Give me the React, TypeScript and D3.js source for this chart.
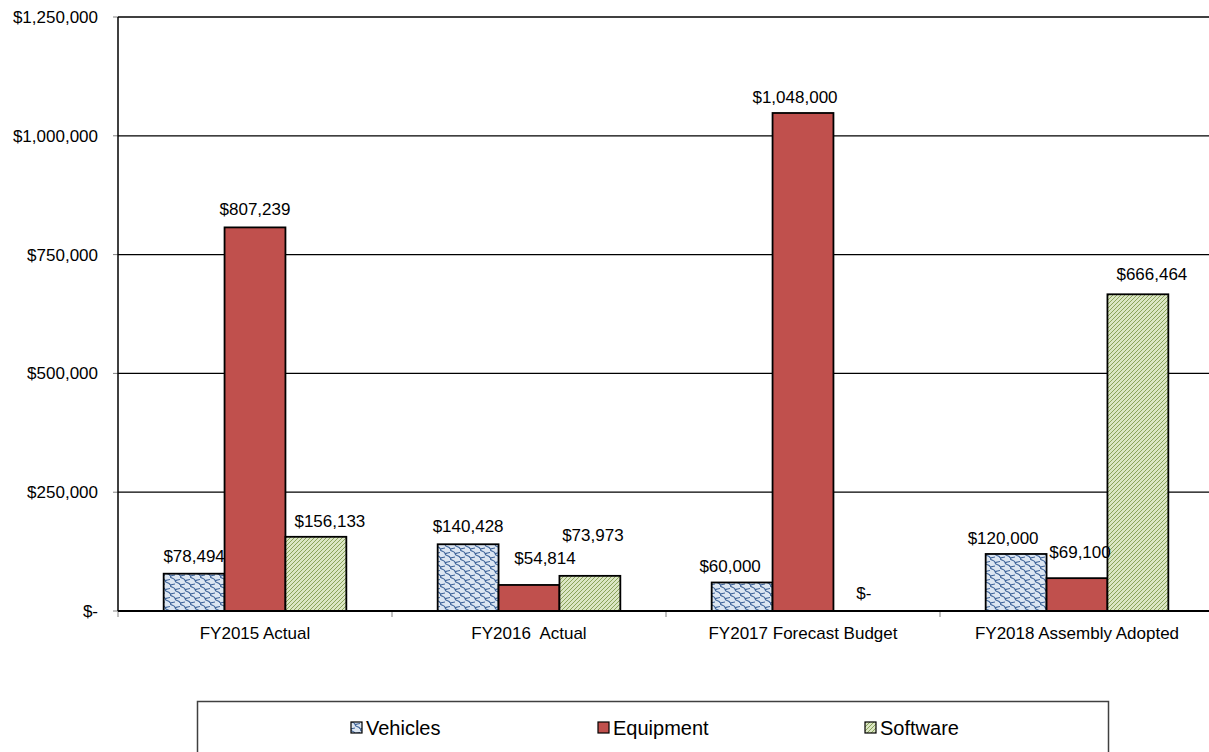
import React, { useEffect, useRef } from 'react';
import * as d3 from 'd3';

const categories = ['FY2015 Actual', 'FY2016  Actual', 'FY2017 Forecast Budget', 'FY2018 Assembly Adopted'];
const seriesNames = ['Vehicles', 'Equipment', 'Software'];
const vehicles = [78494, 140428, 60000, 120000];
const equipment = [807239, 54814, 1048000, 69100];
const software = [156133, 73973, 0, 666464];
const yTicks = [0, 250000, 500000, 750000, 1000000, 1250000];

// label nudges (dx, dy) where the original labels were moved by hand
const labelNudge: Record<string, [number, number]> = {
  'Software|0': [14, 2],
  'Equipment|1': [16, -9],
  'Software|1': [3, -23],
  'Vehicles|2': [-12, 2],
  'Equipment|2': [-8, 2],
  'Vehicles|3': [-13, 2],
  'Equipment|3': [3, -8],
  'Software|3': [14, -2],
};

// legend swatch left edges
const legendSlots = [351, 598, 865];

const W = 1209;
const H = 752;

export default function App() {
  const svgRef = useRef<SVGSVGElement>(null);

  useEffect(() => {
    document.body.style.margin = '0';
    if (!svgRef.current) return;
    const svg = d3.select(svgRef.current);
    svg.selectAll('*').remove();

    const font = 'Liberation Sans, Arial, sans-serif';
    const left = 118, top = 17, bottom = 611, right = 1214;

    // patterns
    const defs = svg.append('defs');
    const pv = defs.append('pattern').attr('id', 'pVeh')
      .attr('patternUnits', 'userSpaceOnUse').attr('width', 10).attr('height', 9);
    pv.append('rect').attr('width', 10).attr('height', 9).attr('fill', '#dce6f2');
    pv.append('path')
      .attr('d', 'M0,0 C0,3 5,1.5 5,4.5 C5,7.5 10,6 10,9 M-5,4.5 C-5,7.5 0,6 0,9 M5,-4.5 C5,-1.5 10,-3 10,0 M0,0 C2,0 3,-1 5,-1 M5,4.5 C7,4.5 8,3.5 10,3.5 M0,9 C2,9 3,8 5,8 M-5,4.5 C-3,4.5 -2,3.5 0,3.5')
      .attr('fill', 'none').attr('stroke', '#3d6399').attr('stroke-width', 1.1);

    const ps = defs.append('pattern').attr('id', 'pSoft')
      .attr('patternUnits', 'userSpaceOnUse').attr('width', 4).attr('height', 4);
    ps.append('rect').attr('width', 4).attr('height', 4).attr('fill', '#dbe6c4');
    ps.append('path')
      .attr('d', 'M-1,1 L1,-1 M0,4 L4,0 M3,5 L5,3')
      .attr('stroke', '#8aa35a').attr('stroke-width', 1);

    const fills: Record<string, string> = {
      Vehicles: 'url(#pVeh)',
      Equipment: '#c0504d',
      Software: 'url(#pSoft)',
    };
    const values: Record<string, number[]> = {
      Vehicles: vehicles,
      Equipment: equipment,
      Software: software,
    };

    const x0 = d3.scaleBand().domain(categories).range([left, right]).paddingInner(0).paddingOuter(0);
    const x1 = d3.scaleBand().domain(seriesNames).range([0, x0.bandwidth()]).paddingInner(0).paddingOuter(0.75);
    const y = d3.scaleLinear().domain([0, 1250000]).range([bottom, top]);

    const fmt = (v: number) => (v === 0 ? '$-' : '$' + d3.format(',')(v));

    // gridlines
    svg.append('g').selectAll('line').data(yTicks.filter(t => t > 0)).enter().append('line')
      .attr('x1', left).attr('x2', right)
      .attr('y1', d => y(d)).attr('y2', d => y(d))
      .attr('stroke', '#000').attr('stroke-width', 1.3);

    // left ticks
    svg.append('g').selectAll('line').data(yTicks).enter().append('line')
      .attr('x1', left - 5).attr('x2', left)
      .attr('y1', d => y(d)).attr('y2', d => y(d))
      .attr('stroke', '#808080');

    svg.append('g').selectAll('text').data(yTicks).enter().append('text')
      .attr('x', 98).attr('y', d => y(d) + 6)
      .attr('text-anchor', 'end')
      .attr('font-family', font).attr('font-size', 17)
      .text(d => fmt(d));

    // bottom ticks at category boundaries
    const bounds = categories.map(c => x0(c) as number).concat([right]);
    svg.append('g').selectAll('line').data(bounds).enter().append('line')
      .attr('x1', d => d).attr('x2', d => d)
      .attr('y1', bottom).attr('y2', bottom + 6)
      .attr('stroke', '#808080');

    // bars
    seriesNames.forEach(s => {
      svg.append('g').selectAll('rect').data(values[s]).enter().append('rect')
        .attr('x', (d, i) => (x0(categories[i]) as number) + (x1(s) as number))
        .attr('y', d => y(d))
        .attr('width', x1.bandwidth())
        .attr('height', d => bottom - y(d))
        .attr('fill', fills[s])
        .attr('stroke', '#000').attr('stroke-width', 1.8);
    });

    // axes lines
    svg.append('line').attr('x1', left).attr('x2', left).attr('y1', top).attr('y2', bottom)
      .attr('stroke', '#000').attr('stroke-width', 1.5);
    svg.append('line').attr('x1', left).attr('x2', right).attr('y1', bottom).attr('y2', bottom)
      .attr('stroke', '#000').attr('stroke-width', 2);

    // data labels
    seriesNames.forEach(s => {
      svg.append('g').selectAll('text').data(values[s]).enter().append('text')
        .attr('x', (d, i) => {
          const n = labelNudge[`${s}|${i}`] || [0, 0];
          return (x0(categories[i]) as number) + (x1(s) as number) + x1.bandwidth() / 2 + n[0];
        })
        .attr('y', (d, i) => {
          const n = labelNudge[`${s}|${i}`] || [0, 0];
          return y(d) - 12 + n[1];
        })
        .attr('text-anchor', 'middle')
        .attr('font-family', font).attr('font-size', 17)
        .text(d => fmt(d));
    });

    // category labels
    svg.append('g').selectAll('text').data(categories).enter().append('text')
      .attr('x', d => (x0(d) as number) + x0.bandwidth() / 2)
      .attr('y', 639)
      .attr('text-anchor', 'middle')
      .attr('font-family', font).attr('font-size', 17)
      .style('white-space', 'pre')
      .text(d => d);

    // legend
    const lg = svg.append('g');
    lg.append('rect').attr('x', 197.5).attr('y', 701.5).attr('width', 911).attr('height', 54)
      .attr('fill', '#fff').attr('stroke', '#404040').attr('stroke-width', 1.5);
    seriesNames.forEach((s, i) => {
      const lx = legendSlots[i];
      lg.append('rect').attr('x', lx).attr('y', 722).attr('width', 11).attr('height', 11)
        .attr('fill', fills[s]).attr('stroke', '#000').attr('stroke-width', 1.2);
      lg.append('text').attr('x', lx + 15).attr('y', 735)
        .attr('font-family', font).attr('font-size', 20)
        .text(s);
    });
  }, []);

  return <svg ref={svgRef} width={W} height={H} style={{ display: 'block' }} />;
}
